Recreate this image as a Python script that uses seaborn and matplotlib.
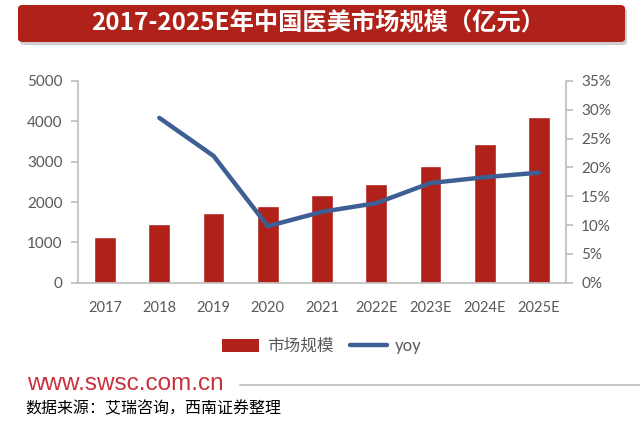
import matplotlib
matplotlib.use("Agg")
import matplotlib.pyplot as plt
import seaborn as sns
import pandas as pd
from matplotlib.patches import FancyBboxPatch, Patch
from matplotlib.lines import Line2D
from matplotlib.ticker import FuncFormatter, MultipleLocator

# data
years = ["2017", "2018", "2019", "2020", "2021", "2022E", "2023E", "2024E", "2025E"]
market_size = [1125, 1447, 1728, 1910, 2166, 2455, 2885, 3430, 4108]
yoy_years = ["2018", "2019", "2020", "2021", "2022E", "2023E", "2024E", "2025E"]
yoy_pct = [28.6, 22.0, 9.8, 12.3, 13.8, 17.3, 18.3, 19.1]

title = "2017-2025E年中国医美市场规模（亿元）"
bar_label = "市场规模"
line_label = "yoy"
site = "www.swsc.com.cn"
source = "数据来源：艾瑞咨询，西南证券整理"

RED = "#AF2119"
BLUE = "#3E5F93"
GRAY_TXT = "#595959"
GRAY_AX = "#BFBFBF"

sns.set_theme(style="white")
plt.rcParams["font.family"] = ["Lato", "Noto Sans CJK SC", "DejaVu Sans"]

bars = pd.DataFrame({"year": years, "size": market_size})
line = pd.DataFrame({"pos": [years.index(y) for y in yoy_years], "yoy": yoy_pct})

fig = plt.figure(figsize=(6.4, 4.28), dpi=100)
ax = fig.add_axes([78 / 640, 1 - 282.7 / 428, (566 - 78) / 640, (282.7 - 81) / 428])

sns.barplot(data=bars, x="year", y="size", color=RED, saturation=1, width=0.4, ax=ax)
ax.set_ylim(0, 5000)
ax.set_xlim(-0.5, len(years) - 0.5)
ax.yaxis.set_major_locator(MultipleLocator(1000))
ax.set_xlabel("")
ax.set_ylabel("")

ax2 = ax.twinx()
sns.lineplot(data=line, x="pos", y="yoy", color=BLUE, linewidth=3.2, ax=ax2)
ax2.set_ylim(0, 35)
ax2.yaxis.set_major_locator(MultipleLocator(5))
ax2.yaxis.set_major_formatter(FuncFormatter(lambda v, _: f"{v:.0f}%"))
ax2.set_ylabel("")
ax2.set_xlabel("")

for a in (ax, ax2):
    for s in a.spines.values():
        s.set_visible(False)
    a.tick_params(labelsize=11, colors=GRAY_TXT)
ax.spines["left"].set_visible(True)
ax.spines["left"].set_color(GRAY_AX)
ax.spines["bottom"].set_visible(True)
ax.spines["bottom"].set_color(GRAY_AX)
ax2.spines["right"].set_visible(True)
ax2.spines["right"].set_color(GRAY_AX)
ax.tick_params(axis="y", left=True, length=5, color=GRAY_AX, pad=6)
ax.tick_params(axis="x", bottom=False, pad=7, labelsize=10.5)
ax2.tick_params(axis="y", right=True, length=5, color=GRAY_AX, pad=6)

# title banner
fig.patches.append(FancyBboxPatch((20 / 640, 1 - 45 / 428), 607 / 640, 37 / 428,
                                  boxstyle="round,pad=0,rounding_size=0.008",
                                  transform=fig.transFigure, facecolor="#CFCFCF",
                                  edgecolor="none", zorder=0))
fig.patches.append(FancyBboxPatch((18 / 640, 1 - 42 / 428), 607 / 640, 37 / 428,
                                  boxstyle="round,pad=0,rounding_size=0.008",
                                  transform=fig.transFigure, facecolor=RED,
                                  edgecolor="none", zorder=1))
fig.text(318 / 640, 1 - 23.5 / 428, title, color="white", fontsize=17.5, fontweight="bold",
         ha="center", va="center", family=["Noto Sans CJK SC", "DejaVu Sans"], zorder=2)

# legend
handles = [Patch(facecolor=RED, edgecolor="none", label=bar_label),
           Line2D([0], [0], color=BLUE, linewidth=3.2, label=line_label)]
fig.legend(handles=handles, loc="center", bbox_to_anchor=(322 / 640, 1 - 346 / 428),
           ncol=2, frameon=False, fontsize=12, labelcolor=GRAY_TXT,
           handlelength=2.2, handleheight=0.8, columnspacing=1.0, handletextpad=0.5)

# footer
fig.text(27 / 640, 1 - 384 / 428, site, color="#C8323C", fontsize=17.5,
         ha="left", va="center", family=["Liberation Sans", "DejaVu Sans"])
fig.add_artist(Line2D([240 / 640, 1.0], [1 - 385 / 428, 1 - 385 / 428],
                      transform=fig.transFigure, color="#C8C8C8", linewidth=1.5))
fig.text(25 / 640, 1 - 409 / 428, source, color="black", fontsize=11.5,
         ha="left", va="center", family=["Noto Sans CJK SC", "DejaVu Sans"])

fig.savefig("out.png", dpi=100)
